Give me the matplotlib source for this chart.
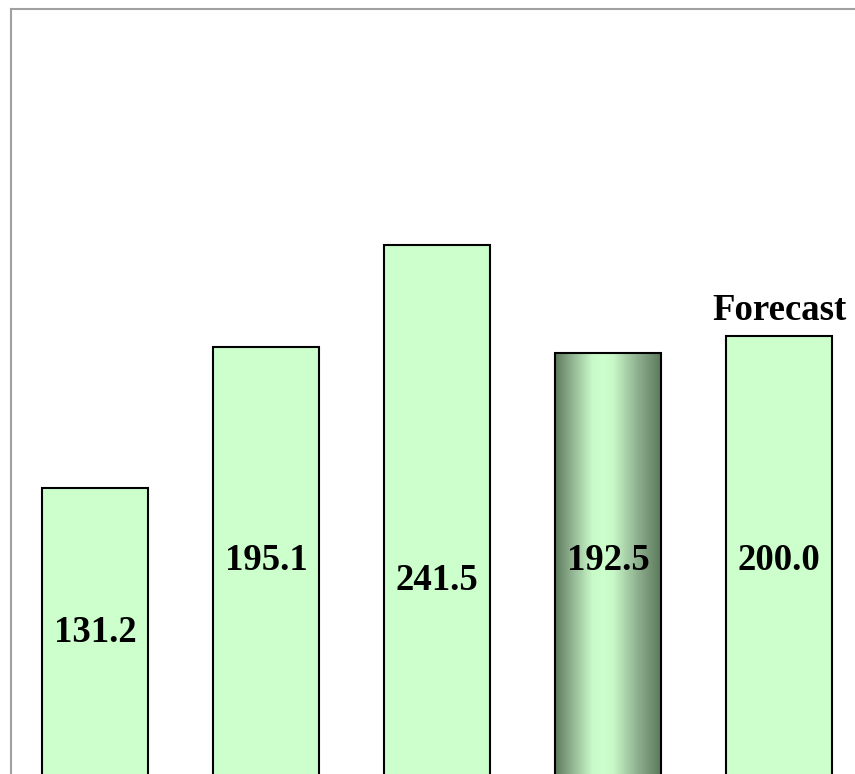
import numpy as np
import matplotlib
matplotlib.use("Agg")
import matplotlib.pyplot as plt
from matplotlib.colors import LinearSegmentedColormap
from matplotlib.lines import Line2D

categories = ["1", "2", "3", "4", "5"]
values = [131.2, 195.1, 241.5, 192.5, 200.0]
labels = ["131.2", "195.1", "241.5", "192.5", "200.0"]
label_y = [65.8, 98.1, 89.0, 98.1, 98.1]   # label placement (data units)
highlight_index = 3
forecast_index = 4
forecast_text = "Forecast"

W, H = 855, 774
fig = plt.figure(figsize=(W / 100, H / 100), dpi=100)
fig.patch.set_facecolor("white")

ax = fig.add_axes([0, 0, 1, 1])
ax.set_axis_off()
px_per_x = 171.0
x0_px = 95.0
ax.set_xlim(-x0_px / px_per_x, (W - x0_px) / px_per_x)
px_per_y = 2.203
zero_px = 777.0
ax.set_ylim((zero_px - H) / px_per_y, zero_px / px_per_y)

x = np.arange(len(values))
width = 106 / px_per_x
light = "#ccffcc"
bars = ax.bar(x, values, width=width, color=light, edgecolor="black",
              linewidth=1.5, zorder=2)

# gradient for highlighted bar
b = bars[highlight_index]
b.set_facecolor("none")
cmap = LinearSegmentedColormap.from_list(
    "g", [(0.0, "#5c795c"), (0.15, "#8fb08f"), (0.35, "#c8f8c8"),
          (0.45, "#ccffcc"), (0.55, "#c8f8c8"), (0.78, "#8fb08f"),
          (1.0, "#5c795c")])
grad = np.linspace(0, 1, 256).reshape(1, -1)
im = ax.imshow(grad, cmap=cmap, aspect="auto",
               extent=[b.get_x(), b.get_x() + b.get_width(), 0, b.get_height()],
               zorder=1.5, interpolation="bilinear")
im.set_clip_path(b)

font = dict(family="Liberation Serif", fontweight="bold", fontsize=26.5, color="black")
for xi, ly, lab in zip(x, label_y, labels):
    ax.text(xi, ly, lab, ha="center", va="center", zorder=3, **font)

ax.annotate(forecast_text, xy=(x[forecast_index], values[forecast_index]),
            xytext=(0, 12), textcoords="offset points",
            ha="center", va="baseline", zorder=3, **font)

# outer border (top and left visible)
fig.add_artist(Line2D([10.5 / W, 10.5 / W], [0, 1 - 8.5 / H], transform=fig.transFigure,
                      color="#a0a0a0", linewidth=1.5))
fig.add_artist(Line2D([10.5 / W, 1], [1 - 8.5 / H, 1 - 8.5 / H], transform=fig.transFigure,
                      color="#a0a0a0", linewidth=1.5))

fig.savefig("out.png", dpi=100)
